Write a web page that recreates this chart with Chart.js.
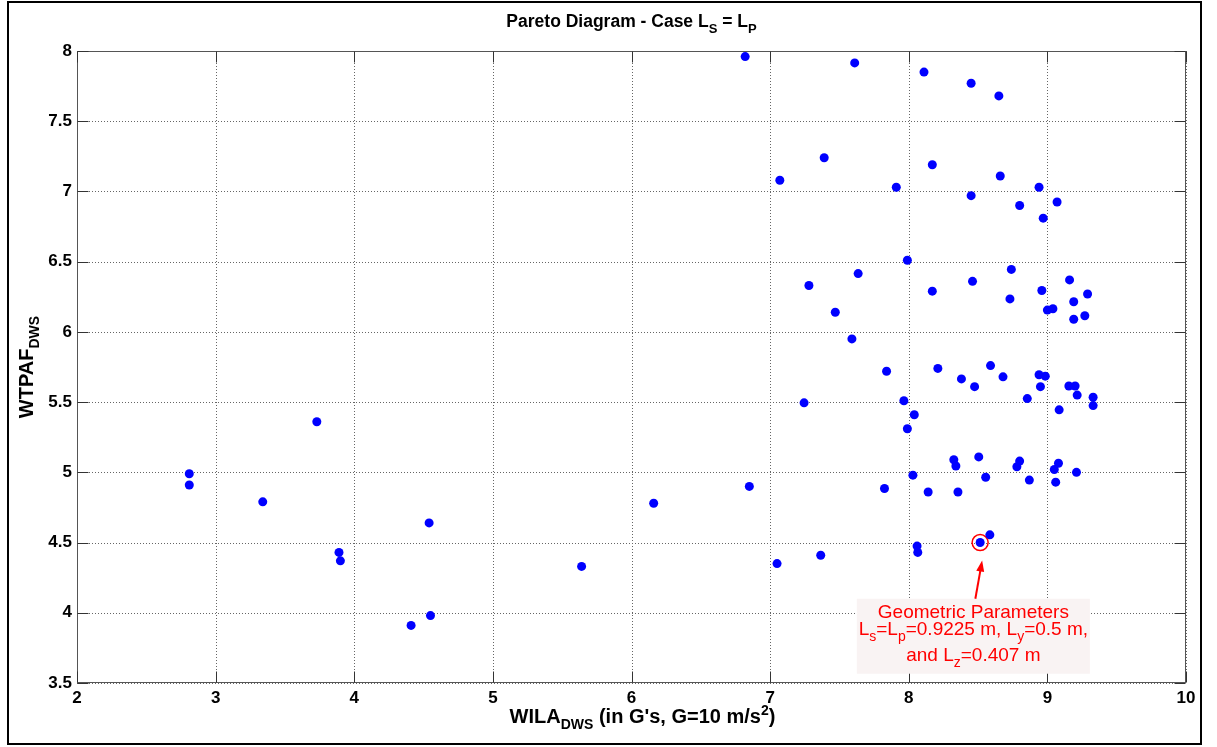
<!DOCTYPE html>
<html>
<head>
<meta charset="utf-8">
<title>Pareto Diagram</title>
<script src="https://cdn.jsdelivr.net/npm/chart.js@4.4.0/dist/chart.umd.min.js"></script>
<style>
  html, body { margin: 0; padding: 0; background: #fff; }
  #wrap { width: 1217px; height: 747px; }
</style>
</head>
<body>
<div id="wrap"><canvas id="pareto" width="1217" height="747"></canvas></div>
<script>
// WILA_DWS (x) and WTPAF_DWS (y) of each design
const wila = [
  2.81, 2.81, 3.34, 3.73, 3.89, 3.90, 4.41, 4.55, 4.54, 5.64,
  6.16, 6.85, 7.05, 6.82, 7.61, 8.11, 8.45, 8.65, 7.07, 7.39,
  7.91, 8.17, 8.45, 7.99, 8.66, 8.80, 8.94, 8.97, 9.07, 7.635,
  7.28, 7.47, 7.59, 8.17, 8.46, 7.84, 8.21, 8.38, 8.475, 7.245,
  7.965, 8.04, 7.99, 8.325, 8.34, 8.505, 8.03, 7.825, 8.74, 8.73,
  8.96, 9.16, 9.19, 9.29, 9.00, 9.04, 9.19, 9.27, 8.59, 8.68,
  8.94, 8.985, 8.95, 9.155, 9.20, 9.215, 9.33, 9.33, 8.855, 9.085,
  8.80, 8.78, 9.08, 9.05, 9.21, 8.555, 8.87, 9.06, 8.14, 8.355,
  8.585, 8.515, 8.06, 8.065, 7.365
];
const wtpaf = [
  4.99, 4.91, 4.79, 5.36, 4.43, 4.37, 3.91, 3.98, 4.64, 4.33,
  4.78, 4.90, 4.35, 7.96, 7.915, 7.85, 7.77, 7.68, 7.08, 7.24,
  7.03, 7.19, 6.97, 6.51, 7.11, 6.90, 7.03, 6.81, 6.925, 6.415,
  6.33, 6.14, 5.95, 6.29, 6.36, 5.72, 5.74, 5.665, 5.61, 5.495,
  5.51, 5.41, 5.31, 5.09, 5.045, 5.11, 4.98, 4.885, 6.445, 6.235,
  6.295, 6.37, 6.215, 6.27, 6.155, 6.165, 6.09, 6.115, 5.76, 5.68,
  5.695, 5.685, 5.61, 5.615, 5.615, 5.55, 5.535, 5.475, 5.525, 5.445,
  5.08, 5.04, 5.065, 5.02, 5.00, 4.965, 4.945, 4.93, 4.86, 4.86,
  4.555, 4.50, 4.475, 4.43, 4.41
];

// the circled design
const chosenX = [8.515];
const chosenY = [4.50];

const xTicks = [2, 3, 4, 5, 6, 7, 8, 9, 10];
const yTicks = [3.5, 4, 4.5, 5, 5.5, 6, 6.5, 7, 7.5, 8];

// note box, anchored at its top centre (data units)
const noteX = 8.466;
const noteY = 4.10;

const FONT = '"Liberation Sans", Arial, Helvetica, sans-serif';

const points = wila.map((x, i) => ({ x: x, y: wtpaf[i] }));
const chosen = chosenX.map((x, i) => ({ x: x, y: chosenY[i] }));

// draws a line of text made of pieces, some of them sub/superscript
function richText(ctx, parts, x, y, size, weight, color, align) {
  const small = Math.round(size * 0.72);
  let w = 0;
  parts.forEach(p => {
    ctx.font = weight + ' ' + (p.sub || p.sup ? small : size) + 'px ' + FONT;
    p.w = ctx.measureText(p.t).width;
    w += p.w;
  });
  let cx = align === 'center' ? x - w / 2 : x;
  ctx.fillStyle = color;
  ctx.textAlign = 'left';
  ctx.textBaseline = 'alphabetic';
  parts.forEach(p => {
    ctx.font = weight + ' ' + (p.sub || p.sup ? small : size) + 'px ' + FONT;
    let dy = 0;
    if (p.sub) dy = size * 0.32;
    if (p.sup) dy = -size * 0.42;
    ctx.fillText(p.t, cx, y + dy);
    cx += p.w;
  });
}

const decor = {
  id: 'decor',
  beforeDatasetsDraw(chart) {
    const { ctx, chartArea: a, scales: { x, y } } = chart;
    ctx.save();
    ctx.strokeStyle = '#666';
    ctx.lineWidth = 1;
    ctx.setLineDash([1, 2]);
    xTicks.forEach(v => {
      const px = Math.round(x.getPixelForValue(v)) + 0.5;
      ctx.beginPath(); ctx.moveTo(px, a.top); ctx.lineTo(px, a.bottom); ctx.stroke();
    });
    yTicks.forEach(v => {
      const py = Math.round(y.getPixelForValue(v)) + 0.5;
      ctx.beginPath(); ctx.moveTo(a.left, py); ctx.lineTo(a.right, py); ctx.stroke();
    });
    ctx.restore();
  },
  afterDatasetsDraw(chart) {
    const { ctx, chartArea: a, scales: { x, y } } = chart;
    ctx.save();
    // axes box with inward ticks
    ctx.strokeStyle = '#555';
    ctx.lineWidth = 1;
    const L = Math.round(a.left) + 0.5, R = Math.round(a.right) - 0.5;
    const T = Math.round(a.top) + 0.5, B = Math.round(a.bottom) - 0.5;
    ctx.strokeRect(L, T, R - L, B - T);
    ctx.strokeStyle = '#333';
    xTicks.forEach(v => {
      const px = Math.round(x.getPixelForValue(v)) + 0.5;
      ctx.beginPath();
      ctx.moveTo(px, B); ctx.lineTo(px, B - 11);
      ctx.moveTo(px, T); ctx.lineTo(px, T + 11);
      ctx.stroke();
    });
    yTicks.forEach(v => {
      const py = Math.round(y.getPixelForValue(v)) + 0.5;
      ctx.beginPath();
      ctx.moveTo(L, py); ctx.lineTo(L + 11, py);
      ctx.moveTo(R, py); ctx.lineTo(R - 11, py);
      ctx.stroke();
    });

    // note box, text and arrow
    const bx = x.getPixelForValue(noteX);
    const by = y.getPixelForValue(noteY);
    const bw = 233, bh = 75;
    ctx.fillStyle = '#f9f3f3';
    ctx.fillRect(bx - bw / 2, by, bw, bh);
    const red = '#ff0000';
    richText(ctx, [{ t: 'Geometric Parameters' }], bx, by + 19, 19, 'normal', red, 'center');
    richText(ctx, [
      { t: 'L' }, { t: 's', sub: true }, { t: '=L' }, { t: 'p', sub: true },
      { t: '=0.9225 m, L' }, { t: 'y', sub: true }, { t: '=0.5 m,' }
    ], bx, by + 36, 19, 'normal', red, 'center');
    richText(ctx, [
      { t: 'and L' }, { t: 'z', sub: true }, { t: '=0.407 m' }
    ], bx, by + 62, 19, 'normal', red, 'center');

    const tx = x.getPixelForValue(chosenX[0]) + 2;
    const ty = y.getPixelForValue(chosenY[0]) + 18;
    const sx = bx + 2, sy = by;
    const ang = Math.atan2(ty - sy, tx - sx);
    ctx.strokeStyle = red;
    ctx.fillStyle = red;
    ctx.lineWidth = 2;
    ctx.beginPath(); ctx.moveTo(sx, sy); ctx.lineTo(tx - 8 * Math.cos(ang), ty - 8 * Math.sin(ang)); ctx.stroke();
    ctx.beginPath();
    ctx.moveTo(tx, ty);
    ctx.lineTo(tx - 11 * Math.cos(ang) + 4 * Math.sin(ang), ty - 11 * Math.sin(ang) - 4 * Math.cos(ang));
    ctx.lineTo(tx - 11 * Math.cos(ang) - 4 * Math.sin(ang), ty - 11 * Math.sin(ang) + 4 * Math.cos(ang));
    ctx.closePath();
    ctx.fill();
    ctx.restore();
  },
  afterDraw(chart) {
    const { ctx, chartArea: a } = chart;
    ctx.save();
    const mid = (a.left + a.right) / 2;
    richText(ctx, [
      { t: 'Pareto Diagram - Case L' }, { t: 'S', sub: true }, { t: ' = L' }, { t: 'P', sub: true }
    ], mid, 27, 17.5, 'bold', '#000', 'center');
    richText(ctx, [
      { t: 'WILA' }, { t: 'DWS', sub: true }, { t: " (in G's, G=10 m/s" }, { t: '2', sup: true }, { t: ')' }
    ], mid + 11, 723, 20, 'bold', '#000', 'center');
    ctx.translate(33, 367);
    ctx.rotate(-Math.PI / 2);
    richText(ctx, [{ t: 'WTPAF' }, { t: 'DWS', sub: true }], 0, 0, 20, 'bold', '#000', 'center');
    ctx.restore();
    // figure frame
    ctx.save();
    ctx.strokeStyle = '#000';
    ctx.lineWidth = 2;
    ctx.strokeRect(8, 2, 1193, 742);
    ctx.restore();
  }
};

const ctx = document.getElementById('pareto').getContext('2d');
const paretoChart = new Chart(ctx, {
  type: 'scatter',
  data: {
    datasets: [
      {
        label: 'Designs',
        data: points,
        backgroundColor: '#0000ff',
        borderWidth: 0,
        pointRadius: 4.5
      },
      {
        label: 'Chosen',
        data: chosen,
        backgroundColor: 'rgba(0,0,0,0)',
        borderColor: '#ff0000',
        borderWidth: 1.5,
        pointRadius: 8
      }
    ]
  },
  options: {
    responsive: false,
    animation: false,
    events: [],
    layout: { padding: { top: 51, right: 31, left: 0, bottom: 0 } },
    plugins: { legend: { display: false }, tooltip: { enabled: false }, title: { display: false } },
    scales: {
      x: {
        type: 'linear',
        min: 2,
        max: 10,
        afterFit: s => { s.height = 64; },
        afterBuildTicks: s => { s.ticks = xTicks.map(v => ({ value: v })); },
        grid: { display: false, drawTicks: false },
        border: { display: false },
        ticks: { color: '#000', padding: 5, callback: v => String(v), font: { family: FONT, size: 17, weight: 'bold' } }
      },
      y: {
        type: 'linear',
        min: 3.5,
        max: 8,
        afterFit: s => { s.width = 77; },
        afterBuildTicks: s => { s.ticks = yTicks.map(v => ({ value: v })); },
        grid: { display: false, drawTicks: false },
        border: { display: false },
        ticks: { color: '#000', padding: 5, callback: v => String(v), font: { family: FONT, size: 17, weight: 'bold' } }
      }
    }
  },
  plugins: [decor]
});
</script>
</body>
</html>
